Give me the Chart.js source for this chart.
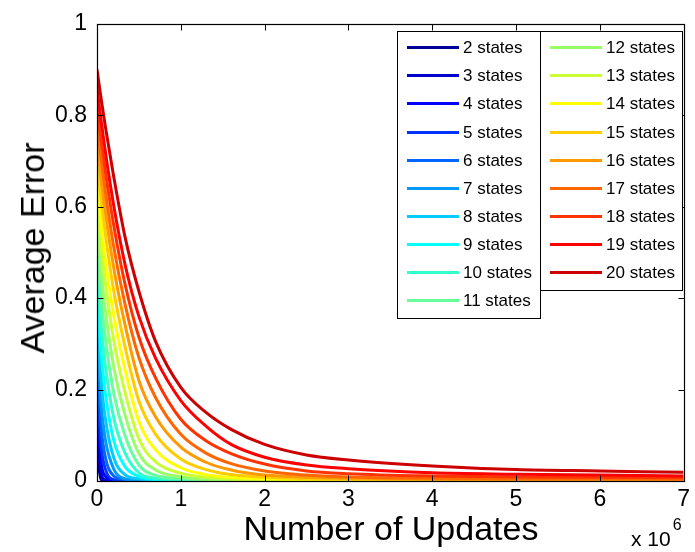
<!DOCTYPE html>
<html>
<head>
<meta charset="utf-8">
<script src="https://cdn.jsdelivr.net/npm/chart.js@4/dist/chart.umd.min.js"></script>
<style>
  html, body { margin: 0; padding: 0; background: #fff; }
  #wrap { position: relative; width: 695px; height: 552px; background: #fff; overflow: hidden;
          font-family: "Liberation Sans", Arial, Helvetica, sans-serif; color: #000; }
  #c { position: absolute; left: 0; top: 0; }
  .ttl { position: absolute; white-space: nowrap; line-height: 1; }
  .legbox { position: absolute; border: 1.5px solid #000; background: #fff; box-sizing: border-box; }
  .legitem { position: absolute; white-space: nowrap; font-size: 17px; line-height: 1; }
  .legline { position: absolute; height: 3px; width: 52px; }
</style>
</head>
<body>
<div id="wrap">
  <canvas id="c" width="695" height="552"></canvas>
  <div class="ttl" style="left:32px; top:248px; font-size:34px; transform:translate(-50%,-50%) rotate(-90deg);">Average Error</div>
  <div class="ttl" style="left:391px; top:528px; font-size:34px; transform:translate(-50%,-50%);">Number of Updates</div>
  <div class="ttl" style="left:631px; top:528px; font-size:21px;">x 10<span style="position:relative; top:-16px; font-size:16px; margin-left:2px;">6</span></div>
  <div id="legend"></div>
</div>
<script>
// x values: number of updates (x 10^6)
const updates = [0, 0.05, 0.1, 0.2, 0.333, 0.5, 0.7, 1, 1.3, 1.6, 2, 2.5, 3, 4, 5, 6, 7];

// Average error per number of states
const err2  = [0.06, 0.003, 0.001, 0.001, 0.001, 0.001, 0.001, 0.001, 0.001, 0.001, 0.001, 0.001, 0.001, 0.001, 0.001, 0.001, 0.001];
const err3  = [0.11, 0.015, 0.002, 0.001, 0.001, 0.001, 0.001, 0.001, 0.001, 0.001, 0.001, 0.001, 0.001, 0.001, 0.001, 0.001, 0.001];
const err4  = [0.16, 0.039, 0.010, 0.001, 0.001, 0.001, 0.001, 0.001, 0.001, 0.001, 0.001, 0.001, 0.001, 0.001, 0.001, 0.001, 0.001];
const err5  = [0.21, 0.074, 0.026, 0.003, 0.001, 0.001, 0.001, 0.001, 0.001, 0.001, 0.001, 0.001, 0.001, 0.001, 0.001, 0.001, 0.001];
const err6  = [0.26, 0.117, 0.052, 0.011, 0.003, 0.001, 0.001, 0.001, 0.001, 0.001, 0.001, 0.001, 0.001, 0.001, 0.001, 0.001, 0.001];
const err7  = [0.31, 0.167, 0.090, 0.026, 0.005, 0.002, 0.001, 0.001, 0.001, 0.001, 0.001, 0.001, 0.001, 0.001, 0.001, 0.001, 0.001];
const err8  = [0.36, 0.221, 0.136, 0.051, 0.014, 0.005, 0.002, 0.001, 0.001, 0.001, 0.001, 0.001, 0.001, 0.001, 0.001, 0.001, 0.001];
const err9  = [0.41, 0.280, 0.191, 0.089, 0.032, 0.010, 0.003, 0.002, 0.001, 0.001, 0.001, 0.001, 0.001, 0.001, 0.001, 0.001, 0.001];
const err10 = [0.46, 0.340, 0.252, 0.138, 0.062, 0.018, 0.006, 0.003, 0.002, 0.001, 0.001, 0.001, 0.001, 0.001, 0.001, 0.001, 0.001];
const err11 = [0.51, 0.399, 0.313, 0.192, 0.100, 0.035, 0.012, 0.005, 0.002, 0.001, 0.001, 0.001, 0.001, 0.001, 0.001, 0.001, 0.001];
const err12 = [0.56, 0.457, 0.373, 0.249, 0.145, 0.060, 0.024, 0.009, 0.004, 0.002, 0.001, 0.001, 0.001, 0.001, 0.001, 0.001, 0.001];
const err13 = [0.61, 0.514, 0.433, 0.308, 0.195, 0.092, 0.042, 0.017, 0.008, 0.004, 0.003, 0.002, 0.001, 0.001, 0.001, 0.001, 0.001];
const err14 = [0.65, 0.562, 0.485, 0.362, 0.245, 0.130, 0.068, 0.029, 0.014, 0.008, 0.005, 0.003, 0.002, 0.001, 0.001, 0.001, 0.001];
const err15 = [0.70, 0.615, 0.540, 0.416, 0.295, 0.175, 0.102, 0.048, 0.025, 0.014, 0.008, 0.005, 0.004, 0.003, 0.002, 0.002, 0.002];
const err16 = [0.74, 0.660, 0.588, 0.466, 0.343, 0.220, 0.140, 0.074, 0.041, 0.024, 0.013, 0.008, 0.006, 0.004, 0.003, 0.003, 0.003];
const err17 = [0.78, 0.702, 0.632, 0.512, 0.388, 0.270, 0.182, 0.102, 0.061, 0.038, 0.022, 0.013, 0.009, 0.006, 0.005, 0.005, 0.004];
const err18 = [0.82, 0.745, 0.677, 0.559, 0.432, 0.315, 0.225, 0.135, 0.088, 0.060, 0.037, 0.022, 0.016, 0.011, 0.009, 0.008, 0.007];
const err19 = [0.86, 0.787, 0.720, 0.602, 0.475, 0.360, 0.268, 0.176, 0.120, 0.080, 0.052, 0.035, 0.027, 0.018, 0.015, 0.013, 0.011];
const err20 = [0.90, 0.835, 0.775, 0.665, 0.535, 0.415, 0.305, 0.205, 0.150, 0.113, 0.080, 0.057, 0.046, 0.033, 0.025, 0.022, 0.019];

const stateCounts = [2, 3, 4, 5, 6, 7, 8, 9, 10, 11, 12, 13, 14, 15, 16, 17, 18, 19, 20];
const seriesList = [err2, err3, err4, err5, err6, err7, err8, err9, err10, err11, err12, err13, err14, err15, err16, err17, err18, err19, err20];
const colors = ['#000099', '#0000CC', '#0000FF', '#0033FF', '#0066FF', '#0099FF', '#00CCFF', '#00FFFF', '#33FFCC', '#66FF99',
                '#99FF66', '#CCFF33', '#FFFF00', '#FFCC00', '#FF9900', '#FF6600', '#FF3300', '#FF0000', '#CC0000'];
const xTicks = [0, 1, 2, 3, 4, 5, 6, 7];
const yTicks = [0, 0.2, 0.4, 0.6, 0.8, 1];

const datasets = stateCounts.map((n, i) => ({
  label: n + ' states',
  data: updates.map((x, j) => ({ x: x, y: seriesList[i][j] })),
  borderColor: colors[i],
  backgroundColor: colors[i],
  borderWidth: 3,
  pointRadius: 0,
  fill: false,
  cubicInterpolationMode: 'monotone',
  order: stateCounts.length - i
}));

const boxAndTicks = {
  id: 'boxAndTicks',
  afterDraw(chart) {
    const ctx = chart.ctx, a = chart.chartArea;
    const xs = chart.scales.x, ys = chart.scales.y;
    const L = Math.round(a.left) + 0.5, R = Math.round(a.right) + 0.5;
    const T = Math.round(a.top) + 0.5, B = Math.round(a.bottom) + 0.5;
    ctx.save();
    ctx.strokeStyle = '#000';
    ctx.lineWidth = 1;
    ctx.beginPath();
    xTicks.forEach(v => {
      const p = Math.round(xs.getPixelForValue(v)) + 0.5;
      ctx.moveTo(p, B); ctx.lineTo(p, B - 6);
      ctx.moveTo(p, T); ctx.lineTo(p, T + 6);
    });
    yTicks.forEach(v => {
      const p = Math.round(ys.getPixelForValue(v)) + 0.5;
      ctx.moveTo(L, p); ctx.lineTo(L + 6, p);
      ctx.moveTo(R, p); ctx.lineTo(R - 6, p);
    });
    ctx.stroke();
    ctx.lineWidth = 1.2;
    ctx.strokeRect(L, T, R - L, B - T);
    ctx.restore();
  }
};

Chart.defaults.font.family = '"Liberation Sans", Arial, Helvetica, sans-serif';
Chart.defaults.color = '#000';

const chart = new Chart(document.getElementById('c'), {
  type: 'line',
  data: { datasets: datasets },
  options: {
    responsive: false,
    animation: false,
    devicePixelRatio: 1,
    layout: { padding: { left: 0, right: 9, top: 20, bottom: 0 } },
    plugins: { legend: { display: false }, tooltip: { enabled: false } },
    scales: {
      x: {
        type: 'linear', min: 0, max: 7,
        grid: { display: false, drawTicks: false },
        border: { display: false },
        afterBuildTicks: s => { s.ticks = xTicks.map(v => ({ value: v })); },
        afterFit: s => { s.height = 71; },
        ticks: { font: { size: 23 }, padding: 5, maxRotation: 0, callback: v => String(v) }
      },
      y: {
        type: 'linear', min: 0, max: 1,
        grid: { display: false, drawTicks: false },
        border: { display: false },
        afterBuildTicks: s => { s.ticks = yTicks.map(v => ({ value: v })); },
        afterFit: s => { s.width = 97; },
        ticks: { font: { size: 23 }, padding: 10, callback: v => String(Math.round(v * 10) / 10) }
      }
    }
  },
  plugins: [boxAndTicks]
});

// HTML legend built from the chart's datasets
(function buildLegend() {
  const leg = document.getElementById('legend');
  const cols = [
    { left: 397, top: 31, width: 144, height: 288, items: stateCounts.slice(0, 10).map((_, k) => k) },
    { left: 540, top: 31, width: 143, height: 260, items: stateCounts.slice(10).map((_, k) => k + 10) }
  ];
  cols.forEach(c => {
    const box = document.createElement('div');
    box.className = 'legbox';
    Object.assign(box.style, { left: c.left + 'px', top: c.top + 'px', width: c.width + 'px', height: c.height + 'px' });
    leg.appendChild(box);
    c.items.forEach((idx, r) => {
      const cy = c.top + 16.7 + r * 28.1;
      const ln = document.createElement('div');
      ln.className = 'legline';
      Object.assign(ln.style, { left: (c.left + 10) + 'px', top: (cy - 1.5) + 'px', background: datasets[idx].borderColor });
      leg.appendChild(ln);
      const tx = document.createElement('div');
      tx.className = 'legitem';
      tx.textContent = datasets[idx].label;
      Object.assign(tx.style, { left: (c.left + 66) + 'px', top: (cy - 8.5) + 'px' });
      leg.appendChild(tx);
    });
  });
})();
</script>
</body>
</html>
